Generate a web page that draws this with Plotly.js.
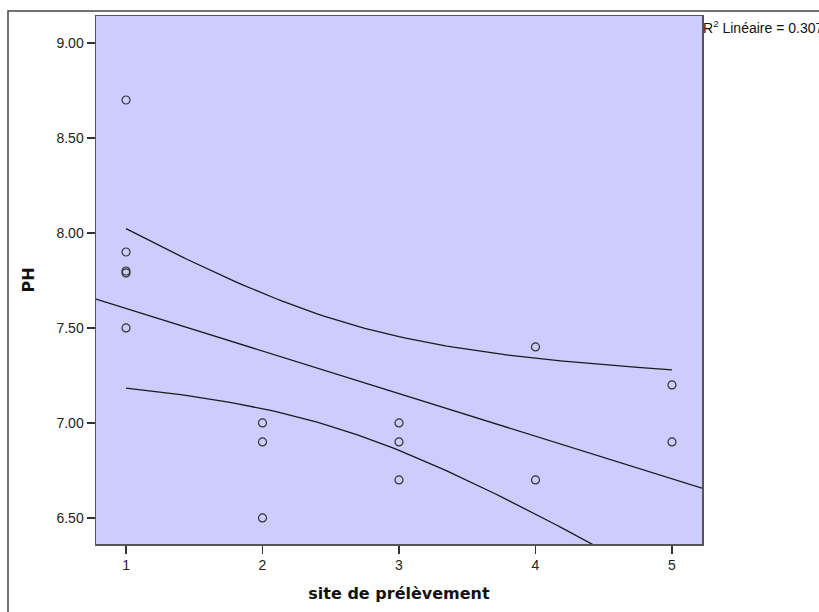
<!DOCTYPE html>
<html>
<head>
<meta charset="utf-8">
<script src="https://cdn.plot.ly/plotly-3.0.1.min.js"></script>
<style>
html,body{margin:0;padding:0;background:#fff;}
#chart{width:819px;height:612px;}
</style>
</head>
<body>
<div id="chart"></div>
<script>
// Data (site de prélèvement vs PH)
const siteValues = [1, 1, 1, 1, 1, 2, 2, 2, 3, 3, 3, 4, 4, 5, 5];
const phValues   = [8.70, 7.90, 7.80, 7.79, 7.50, 7.00, 6.90, 6.50, 7.00, 6.90, 6.70, 7.40, 6.70, 7.20, 6.90];
const xTickVals  = [1, 2, 3, 4, 5];
const yTickVals  = [6.5, 7.0, 7.5, 8.0, 8.5, 9.0];
const r2Label    = "R<sup>2</sup> Linéaire = 0.307";
const xTitle     = "site de prélèvement";
const yTitle     = "PH";
const tCrit      = 2.1604; // t(0.975, df = 13)

const xRange = [0.78, 5.22];
const yRange = [6.363, 9.142];

// Least-squares fit and 95% confidence band for the mean
const n = siteValues.length;
const mx = siteValues.reduce((a, b) => a + b, 0) / n;
const my = phValues.reduce((a, b) => a + b, 0) / n;
let sxx = 0, sxy = 0;
for (let i = 0; i < n; i++) {
  sxx += (siteValues[i] - mx) ** 2;
  sxy += (siteValues[i] - mx) * (phValues[i] - my);
}
const slope = sxy / sxx;
const intercept = my - slope * mx;
let sse = 0;
for (let i = 0; i < n; i++) {
  sse += (phValues[i] - (intercept + slope * siteValues[i])) ** 2;
}
const s = Math.sqrt(sse / (n - 2));
const xMin = Math.min(...siteValues), xMax = Math.max(...siteValues);
const bandX = [], upper = [], lower = [];
for (let k = 0; k <= 80; k++) {
  const x = xMin + (xMax - xMin) * k / 80;
  const fit = intercept + slope * x;
  const half = tCrit * s * Math.sqrt(1 / n + (x - mx) ** 2 / sxx);
  bandX.push(x); upper.push(fit + half); lower.push(fit - half);
}
const fitX = xRange.slice();
const fitY = fitX.map(x => intercept + slope * x);

const lineStyle = {color: '#1a1a1a', width: 1.3};

const traces = [
  {x: fitX, y: fitY, mode: 'lines', line: lineStyle, hoverinfo: 'skip', showlegend: false},
  {x: bandX, y: upper, mode: 'lines', line: lineStyle, hoverinfo: 'skip', showlegend: false},
  {x: bandX, y: lower, mode: 'lines', line: lineStyle, hoverinfo: 'skip', showlegend: false},
  {x: siteValues, y: phValues, mode: 'markers', showlegend: false,
   marker: {symbol: 'circle-open', size: 8, color: '#333333', line: {width: 1.2, color: '#333333'}}}
];

const W = 819, H = 612, L = 96, R = 702, T = 16, B = 544;
const px = v => (v - L) / (R - L);
const py = v => (B - v) / (B - T);

const tickFont = {family: 'Liberation Sans, Arial, sans-serif', size: 14, color: '#222'};
const titleFont = {family: 'DejaVu Sans, sans-serif', size: 16, color: '#111', weight: 'bold'};

const layout = {
  width: W, height: H,
  margin: {l: L, r: W - R, t: T, b: H - B, pad: 0},
  paper_bgcolor: '#ffffff',
  plot_bgcolor: '#ccccff',
  font: {family: 'Liberation Sans, Arial, sans-serif', size: 14, color: '#222'},
  showlegend: false,
  xaxis: {
    range: xRange, tickvals: xTickVals, ticktext: xTickVals.map(String),
    showgrid: false, zeroline: false,
    showline: true, mirror: true, linecolor: '#555', linewidth: 1.5,
    ticks: 'outside', ticklen: 8, tickwidth: 1.5, tickcolor: '#333',
    tickfont: tickFont,
    title: {text: xTitle, font: titleFont, standoff: 15},
    automargin: false
  },
  yaxis: {
    range: yRange, tickvals: yTickVals, tickformat: '.2f',
    showgrid: false, zeroline: false,
    showline: true, mirror: true, linecolor: '#555', linewidth: 1.5,
    ticks: 'outside', ticklen: 8, tickwidth: 1.5, tickcolor: '#333',
    tickfont: tickFont,
    ticklabelstandoff: 0,
    title: {text: yTitle, font: titleFont, standoff: 18},
    automargin: false
  },
  shapes: [
    {type: 'rect', xref: 'paper', yref: 'paper', layer: 'below',
     x0: px(8), x1: px(830), y0: py(625), y1: py(11),
     line: {color: '#444', width: 1.5}, fillcolor: 'rgba(0,0,0,0)'}
  ],
  annotations: [
    {xref: 'paper', yref: 'paper', x: 1, y: py(27), xanchor: 'left', yanchor: 'middle',
     text: r2Label, showarrow: false, xshift: -1,
     font: {family: 'Liberation Sans, Arial, sans-serif', size: 14, color: '#111'}}
  ]
};

Plotly.newPlot('chart', traces, layout, {displayModeBar: false, staticPlot: true});
</script>
</body>
</html>
